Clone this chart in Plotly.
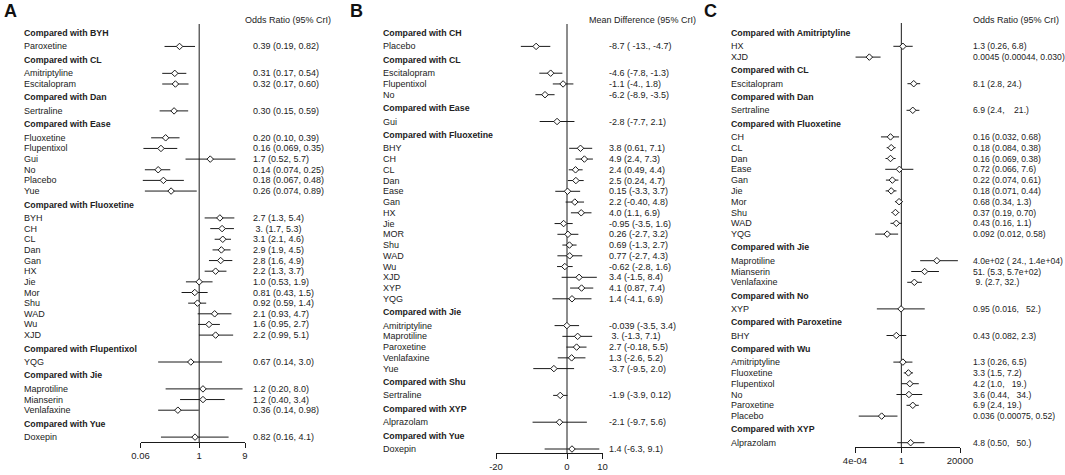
import math
import plotly.graph_objects as go

# ---------------- Panel A (Odds Ratio) ----------------
A_comparator = ["BYH", "CL", "CL", "Dan", "Ease", "Ease", "Ease", "Ease", "Ease", "Ease",
                "Fluoxetine", "Fluoxetine", "Fluoxetine", "Fluoxetine", "Fluoxetine", "Fluoxetine",
                "Fluoxetine", "Fluoxetine", "Fluoxetine", "Fluoxetine", "Fluoxetine", "Fluoxetine",
                "Flupentixol", "Jie", "Jie", "Jie", "Yue"]
A_treatment = ["Paroxetine", "Amitriptyline", "Escitalopram", "Sertraline", "Fluoxetine", "Flupentixol",
               "Gui", "No", "Placebo", "Yue", "BYH", "CH", "CL", "Dan", "Gan", "HX", "Jie", "Mor", "Shu",
               "WAD", "Wu", "XJD", "YQG", "Maprotiline", "Mianserin", "Venlafaxine", "Doxepin"]
A_est = ["0.39", "0.31", "0.32", "0.30", "0.20", "0.16", "1.7", "0.14", "0.18", "0.26",
         "2.7", " 3.", "3.1", "2.9", "2.8", "2.2", "1.0", "0.81", "0.92", "2.1", "1.6", "2.2",
         "0.67", "1.2", "1.2", "0.36", "0.82"]
A_lo = ["0.19", "0.17", "0.17", "0.15", "0.10", "0.069", "0.52", "0.074", "0.067", "0.074",
        "1.3", "1.7", "2.1", "1.9", "1.6", "1.3", "0.53", "0.43", "0.59", "0.93", "0.95", "0.99",
        "0.14", "0.20", "0.40", "0.14", "0.16"]
A_hi = ["0.82", "0.54", "0.60", "0.59", "0.39", "0.35", "5.7", "0.25", "0.48", "0.89",
        "5.4", "5.3", "4.6", "4.5", "4.9", "3.7", "1.9", "1.5", "1.4", "4.7", "2.7", "5.1",
        "3.0", "8.0", "3.4", "0.98", "4.1"]
A_ticks = [0.06, 1, 9]
A_ticktext = ["0.06", "1", "9"]

# ---------------- Panel B (Mean Difference) ----------------
B_comparator = ["CH", "CL", "CL", "CL", "Ease"] + ["Fluoxetine"] * 15 + ["Jie"] * 5 + ["Shu", "XYP", "Yue"]
B_treatment = ["Placebo", "Escitalopram", "Flupentixol", "No", "Gui",
               "BHY", "CH", "CL", "Dan", "Ease", "Gan", "HX", "Jie", "MOR", "Shu", "WAD", "Wu", "XJD", "XYP", "YQG",
               "Amitriptyline", "Maprotiline", "Paroxetine", "Venlafaxine", "Yue",
               "Sertraline", "Alprazolam", "Doxepin"]
B_est = ["-8.7", "-4.6", "-1.1", "-6.2", "-2.8",
         "3.8", "4.9", "2.4", "2.5", "0.15", "2.2", "4.0", "-0.95", "0.26", "0.69", "0.77", "-0.62", "3.4", "4.1", "1.4",
         "-0.039", " 3.", "2.7", "1.3", "-3.7",
         "-1.9", "-2.1", "1.4"]
B_lo = [" -13.", "-7.8", "-4.", "-8.9", "-7.7",
        "0.61", "2.4", "0.49", "0.24", "-3.3", "-0.40", "1.1", "-3.5", "-2.7", "-1.3", "-2.7", "-2.8", "-1.5", "0.87", "-4.1",
        "-3.5", "-1.3", "-0.18", "-2.6", "-9.5",
        "-3.9", "-9.7", "-6.3"]
B_hi = ["-4.7", "-1.3", "1.8", "-3.5", "2.1",
        "7.1", "7.3", "4.4", "4.7", "3.7", "4.8", "6.9", "1.6", "3.2", "2.7", "4.3", "1.6", "8.4", "7.4", "6.9",
        "3.4", "7.1", "5.5", "5.2", "2.0",
        "0.12", "5.6", "9.1"]
B_ticks = [-20, 0, 10]
B_ticktext = ["-20", "0", "10"]

# ---------------- Panel C (Odds Ratio) ----------------
C_comparator = ["Amitriptyline", "Amitriptyline", "CL", "Dan"] + ["Fluoxetine"] * 10 + ["Jie"] * 3 + \
               ["No", "Paroxetine"] + ["Wu"] * 6 + ["XYP"]
C_treatment = ["HX", "XJD", "Escitalopram", "Sertraline",
               "CH", "CL", "Dan", "Ease", "Gan", "Jie", "Mor", "Shu", "WAD", "YQG",
               "Maprotiline", "Mianserin", "Venlafaxine", "XYP", "BHY",
               "Amitriptyline", "Fluoxetine", "Flupentixol", "No", "Paroxetine", "Placebo", "Alprazolam"]
C_est = ["1.3", "0.0045", "8.1", "6.9",
         "0.16", "0.18", "0.16", "0.72", "0.22", "0.18", "0.68", "0.37", "0.43", "0.092",
         "4.0e+02", "51.", " 9.", "0.95", "0.43",
         "1.3", "3.3", "4.2", "3.6", "6.9", "0.036", "4.8"]
C_lo = ["0.26", "0.00044", "2.8", "2.4",
        "0.032", "0.084", "0.069", "0.066", "0.074", "0.071", "0.34", "0.19", "0.16", "0.012",
        " 24.", "5.3", "2.7", "0.016", "0.082",
        "0.26", "1.5", "1.0", "0.44", "2.4", "0.00075", "0.50"]
C_hi = ["6.8", "0.030", "24.", "   21.",
        "0.68", "0.38", "0.38", "7.6", "0.61", "0.44", "1.3", "0.70", "1.1", "0.58",
        "1.4e+04", "5.7e+02", "32.", "  52.", "2.3",
        "6.5", "7.2", "  19.", "  34.", "19.", "0.52", "  50."]
C_ticks = [4e-4, 1, 20000]
C_ticktext = ["4e-04", "1", "20000"]

# ---------------- layout helpers ----------------
W, H = 1065, 475
FONT = "Liberation Sans, Arial, sans-serif"
TXT = "#222222"
FS = 9.0

panels = [
    dict(letter="A", comp=A_comparator, trt=A_treatment, est=A_est, lo=A_lo, hi=A_hi,
         ticks=A_ticks, ticktext=A_ticktext, log=True, ref=1, title="Odds Ratio (95% CrI)",
         xpx=(140.5, 245.0), axis_y=442, line_top=24, top=33, s=10.65, g=13.45,
         letter_x=2, label_x=22, ci_x=251, title_x=243, ci_fs=9.0),
    dict(letter="B", comp=B_comparator, trt=B_treatment, est=B_est, lo=B_lo, hi=B_hi,
         ticks=B_ticks, ticktext=B_ticktext, log=False, ref=0, title="Mean Difference (95% CrI)",
         xpx=(496.0, 602.5), axis_y=453, line_top=24, top=33, s=10.75, g=13.4,
         letter_x=348, label_x=381, ci_x=607, title_x=587, ci_fs=9.0),
    dict(letter="C", comp=C_comparator, trt=C_treatment, est=C_est, lo=C_lo, hi=C_hi,
         ticks=C_ticks, ticktext=C_ticktext, log=True, ref=1, title="Odds Ratio (95% CrI)",
         xpx=(855.0, 960.0), axis_y=447, line_top=23, top=33, s=10.8, g=13.3,
         letter_x=702, label_x=729, ci_x=971, title_x=971, ci_fs=8.6),
]


def row_positions(comp, top, s, g):
    headers, items = [], []
    y = top
    prev = None
    for i, c in enumerate(comp):
        if c != prev:
            if i > 0:
                y += g
            headers.append((c, y))
            y += g
        else:
            y += s
        items.append(y)
        prev = c
    return headers, items


fig = go.Figure()
annotations = []
layout_axes = {}

for k, p in enumerate(panels, start=1):
    xa = "x" if k == 1 else f"x{k}"
    ya = "y" if k == 1 else f"y{k}"
    xname = "xaxis" if k == 1 else f"xaxis{k}"
    yname = "yaxis" if k == 1 else f"yaxis{k}"

    headers, ys = row_positions(p["comp"], p["top"], p["s"], p["g"])
    est = [float(v) for v in p["est"]]
    lo = [float(v) for v in p["lo"]]
    hi = [float(v) for v in p["hi"]]

    # reference line
    fig.add_trace(go.Scatter(x=[p["ref"], p["ref"]], y=[p["line_top"], p["axis_y"]], mode="lines",
                             line=dict(color="#1a1a1a", width=1), xaxis=xa, yaxis=ya,
                             hoverinfo="skip", showlegend=False, cliponaxis=False))
    # CI lines
    lx, ly = [], []
    for a, b, y in zip(lo, hi, ys):
        lx += [a, b, None]
        ly += [y, y, None]
    fig.add_trace(go.Scatter(x=lx, y=ly, mode="lines", line=dict(color="#1a1a1a", width=1),
                             xaxis=xa, yaxis=ya, hoverinfo="skip", showlegend=False))
    # point estimates
    fig.add_trace(go.Scatter(x=est, y=ys, mode="markers",
                             marker=dict(symbol="diamond", size=5, color="white",
                                         line=dict(color="#1a1a1a", width=1)),
                             xaxis=xa, yaxis=ya, showlegend=False,
                             text=p["trt"], hovertemplate="%{text}: %{x}<extra></extra>"))

    x0, x1 = p["xpx"]
    if p["log"]:
        rng = [math.log10(p["ticks"][0]), math.log10(p["ticks"][-1])]
    else:
        rng = [p["ticks"][0], p["ticks"][-1]]
    layout_axes[xname] = dict(
        domain=[x0 / W, x1 / W], range=rng, type="log" if p["log"] else "linear",
        anchor=ya, showline=True, linecolor="#1a1a1a", linewidth=1, automargin=False,
        ticks="outside", ticklen=5, tickcolor="#1a1a1a", tickwidth=1,
        tickvals=p["ticks"], ticktext=p["ticktext"], showgrid=False, zeroline=False,
        tickfont=dict(family=FONT, size=9.5, color=TXT), fixedrange=True)
    ay = p["axis_y"]
    layout_axes[yname] = dict(domain=[(H - ay) / H, 1], range=[ay, 0], visible=False,
                              anchor=xa, fixedrange=True, automargin=False)

    # panel letter
    annotations.append(dict(text="<b>%s</b>" % p["letter"], x=p["letter_x"] / W, y=11,
                            xref="paper", yref=ya, xanchor="left", yanchor="middle",
                            showarrow=False, font=dict(family=FONT, size=18, color="#111")))
    # column title
    annotations.append(dict(text=p["title"], x=p["title_x"] / W, y=20, xref="paper", yref=ya,
                            xanchor="left", yanchor="middle", showarrow=False,
                            font=dict(family=FONT, size=FS, color=TXT)))
    # group headers
    for name, y in headers:
        annotations.append(dict(text="<b>Compared with %s</b>" % name, x=p["label_x"] / W, y=y,
                                xref="paper", yref=ya, xanchor="left", yanchor="middle",
                                showarrow=False, font=dict(family=FONT, size=8.8, color=TXT)))
    # row labels and CI text
    for t, e, a, b, y in zip(p["trt"], p["est"], p["lo"], p["hi"], ys):
        annotations.append(dict(text=t, x=p["label_x"] / W, y=y, xref="paper", yref=ya,
                                xanchor="left", yanchor="middle", showarrow=False,
                                font=dict(family=FONT, size=FS, color=TXT)))
        ci = "%s (%s, %s)" % (e, a, b)
        annotations.append(dict(text=ci.replace(" ", "&nbsp;") if "  " in ci else ci,
                                x=p["ci_x"] / W, y=y, xref="paper", yref=ya,
                                xanchor="left", yanchor="middle", showarrow=False,
                                font=dict(family=FONT, size=p["ci_fs"], color=TXT)))

fig.update_layout(template="none", width=W, height=H, margin=dict(l=0, r=0, t=0, b=0, pad=0),
                  paper_bgcolor="white", plot_bgcolor="white",
                  showlegend=False, annotations=annotations, **layout_axes)

fig.write_html("out.html", config={"displayModeBar": False},
               post_script="document.body.style.margin='0';document.body.style.overflow='hidden';")
